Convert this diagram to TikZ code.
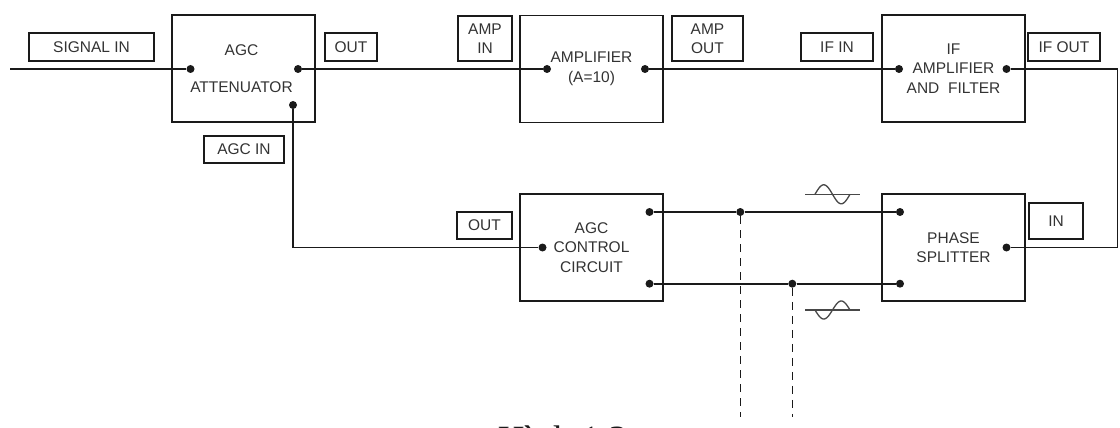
\documentclass[tikz,border=0pt]{standalone}
\usepackage{fontspec}
\setmainfont{Liberation Sans}
\newfontfamily\capfont{Liberation Serif}
\definecolor{ink}{HTML}{1A1A1A}
\definecolor{txt}{HTML}{333333}
\tikzset{
  blockbox/.style={draw=ink, line width=1.7pt, minimum width=143pt, minimum height=107pt, inner sep=0pt,
    align=center, text=txt, font=\fontsize{15.5}{19.5}\selectfont},
  lblbox/.style={draw=ink, line width=1.5pt, inner sep=0pt, align=center, text=txt,
    font=\fontsize{15.5}{19.5}\selectfont},
  txtnode/.style={inner sep=0pt, align=center, text=txt, font=\fontsize{15.5}{19.5}\selectfont},
  dotc/.style={circle, fill=ink, inner sep=0pt, minimum size=8pt},
  wire/.style={draw=ink, line width=1.7pt},
  dashwire/.style={draw=ink, line width=1.5pt, dash pattern=on 8pt off 6pt},
  sinewave/.style={draw=ink!80, line width=1.3pt}
}
\begin{document}
\begin{tikzpicture}[x=1pt,y=-1pt]
\useasboundingbox (0,0) rectangle (1120,428);
\fill[white] (0,0) rectangle (1120,428);

% main blocks
\node[blockbox] (att) at (243.5,68.5) {};
\node[txtnode] (attA) at (241.5,50) {AGC};
\node[txtnode] (attB) at (241.5,87.5) {ATTENUATOR};
\node[blockbox] (amp) at (591.5,69) {AMPLIFIER\\(A=10)};
\node[blockbox] (iff) at (953.5,68.5) {IF\\AMPLIFIER\\AND\ \ FILTER};
\node[blockbox] (agcc) at (591.5,247.5) {AGC\\CONTROL\\CIRCUIT};
\node[blockbox] (ps) at (953.5,247.5) {PHASE\\SPLITTER};

% label boxes
\node[lblbox, minimum width=125pt, minimum height=28pt] (lsig) at (91.5,47) {SIGNAL IN};
\node[lblbox, minimum width=52pt, minimum height=28pt] (lout1) at (351,47) {OUT};
\node[lblbox, minimum width=80pt, minimum height=27pt] (lagcin) at (244,149.5) {AGC IN};
\node[lblbox, minimum width=54pt, minimum height=45pt] (lampin) at (485,38.5) {AMP\\IN};
\node[lblbox, minimum width=71pt, minimum height=45pt] (lampout) at (707.5,38.5) {AMP\\OUT};
\node[lblbox, minimum width=72pt, minimum height=28pt] (lifin) at (837,47) {IF IN};
\node[lblbox, minimum width=72pt, minimum height=28pt] (lifout) at (1064,47) {IF OUT};
\node[lblbox, minimum width=55pt, minimum height=27pt] (lout2) at (484.5,225.5) {OUT};
\node[lblbox, minimum width=54pt, minimum height=36pt] (lin) at (1056,221) {IN};

% terminals
\coordinate (sigstart) at (10,69);
\node[dotc] (attin) at (190.5,69) {};
\node[dotc] (attout) at (298,69) {};
\node[dotc] (attagc) at (293,105) {};
\node[dotc] (ampin) at (547,69) {};
\node[dotc] (ampout) at (645,69) {};
\node[dotc] (ifin) at (899,69) {};
\node[dotc] (ifout) at (1006.5,69) {};
\node[dotc] (agccin) at (542.5,247.5) {};
\node[dotc] (agcco1) at (649.5,212) {};
\node[dotc] (agcco2) at (649.5,283.7) {};
\node[dotc] (psi1) at (900,212) {};
\node[dotc] (psi2) at (900,283.7) {};
\node[dotc] (psout) at (1006.5,247.5) {};
\node[dotc] (j1) at (740.3,212) {};
\node[dotc] (j2) at (792.3,283.7) {};
\coordinate (corA) at (293,247.5);
\coordinate (corB1) at (1117.5,69);
\coordinate (corB2) at (1117.5,247.5);
\coordinate (d1) at (740.3,417);
\coordinate (d2) at (792.3,417);

% wires
\draw[wire] (sigstart) -- (attin);
\draw[wire] (attout) -- (ampin);
\draw[wire] (ampout) -- (ifin);
\draw[wire] (ifout) -- (corB1) -- (corB2) -- (psout);
\draw[wire] (attagc) -- (corA) -- (agccin);
\draw[wire] (agcco1) -- (j1) -- (psi1);
\draw[wire] (agcco2) -- (j2) -- (psi2);
\draw[dashwire] (j1) -- (d1);
\draw[dashwire] (j2) -- (d2);

% sine symbols
\draw[sinewave] (805,194.3) -- (860,194.3);
\draw[sinewave] plot[domain=0:360, samples=60, smooth] ({815+\x*35/360},{194.3-9.5*sin(\x)});
\draw[sinewave] (805,310) -- (860,310);
\draw[sinewave] plot[domain=0:360, samples=60, smooth] ({815+\x*35/360},{310+9*sin(\x)});

% caption (cut off at the bottom edge)
\begin{scope}
\clip (0,0) rectangle (1120,428);
\node[inner sep=0pt, anchor=base, text=ink, font=\capfont\fontsize{37}{40}\selectfont] (cap) at (562.5,451.5) {Hình 1.3};
\end{scope}
\end{tikzpicture}
\end{document}
